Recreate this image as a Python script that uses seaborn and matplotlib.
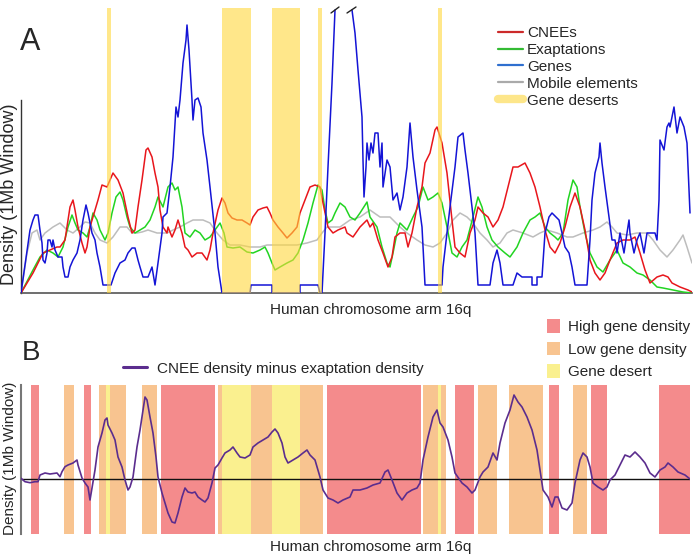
import numpy as np
import pandas as pd
import matplotlib
matplotlib.use("Agg")
import matplotlib.pyplot as plt
import seaborn as sns
from matplotlib.lines import Line2D
from matplotlib.patches import Patch

# ---------------- data (position along 16q, arbitrary units ; density) ----------------
cnees = [(21,0),(33,20),(43,40),(50,43),(57,46),(60,46),(65,53),(70,86),(73,93),(75,83),(78,66),(82,50),
         (85,40),(87,46),(90,66),(93,76),(98,93),(102,108),(107,106),(110,113),(113,120),(118,113),(123,100),
         (128,76),(132,60),(135,63),(138,86),(142,113),(146,143),(148,145),(152,136),(155,120),(158,106),
         (160,83),(163,66),(167,60),(168,66),(172,56),(175,63),(178,73),(182,60),(185,46),(188,43),(192,36),
         (197,40),(202,40),(207,33),(210,43),(213,60),(218,83),(222,95),(225,90),(228,80),(232,75),(237,73),
         (242,73),(247,70),(250,68),(253,76),(258,83),(263,85),(267,86),(270,80),(273,73),(278,66),(283,60),
         (287,55),(292,60),(297,66),(300,80),(305,93),(310,106),(315,108),(320,106),(323,90),(328,66),(333,60),
         (338,63),(345,66),(347,60),(353,56),(360,66),(367,73),(370,66),(373,70),(378,53),(383,40),(388,26),
         (392,36),(395,56),(400,60),(405,60),(408,46),(412,60),(417,86),(422,106),(425,130),(430,140),(435,163),
         (437,166),(442,150),(447,120),(452,73),(455,46),(460,40),(465,36),(470,60),(475,73),(478,86),(483,80),
         (488,76),(493,66),(498,73),(503,86),(508,106),(513,126),(518,126),(525,130),(530,120),(535,106),
         (540,86),(545,63),(550,46),(555,40),(560,50),(565,66),(570,86),(575,100),(580,86),(585,63),(590,33),
         (595,20),(600,13),(605,20),(610,33),(617,50),(623,53),(630,53),(635,56),(640,40),(645,23),(650,10),
         (657,16),(663,18),(668,16),(672,10),(680,6),(688,3),(692,1)]

exaptations = [(21,0),(33,23),(40,36),(47,43),(53,40),(58,36),(63,46),(68,66),(72,78),(75,70),(78,63),(83,60),
               (87,56),(90,66),(93,80),(97,73),(100,63),(105,53),(108,60),(112,80),(116,96),(120,101),(123,93),
               (127,76),(130,66),(135,60),(140,63),(145,66),(150,73),(155,86),(158,96),(163,86),(168,106),
               (172,110),(175,103),(178,106),(182,86),(185,60),(190,56),(195,63),(200,60),(205,53),(210,56),
               (215,63),(220,70),(224,60),(227,46),(233,45),(240,46),(247,41),(253,40),(260,43),(265,46),(268,40),
               (272,30),(275,23),(280,26),(287,30),(293,33),(298,40),(303,53),(308,70),(313,90),(318,108),(322,103),
               (325,83),(328,70),(332,73),(335,80),(340,90),(345,86),(350,76),(355,73),(360,80),(367,91),(370,76),
               (377,66),(382,46),(387,30),(390,26),(393,40),(397,60),(400,70),(407,63),(413,76),(418,86),(423,106),
               (428,93),(433,96),(438,100),(442,90),(447,66),(452,40),(457,36),(462,46),(467,53),(473,76),(478,96),
               (482,86),(487,66),(492,53),(498,46),(505,40),(510,36),(517,46),(523,60),(530,73),(535,76),(540,80),
               (545,66),(550,60),(555,56),(558,53),(563,60),(568,93),(573,113),(577,106),(580,86),(585,60),(590,40),
               (597,26),(603,21),(610,33),(617,43),(623,30),(630,26),(637,20),(643,18),(650,13),(657,6),(663,5),
               (673,3),(683,1),(692,0)]

genes_left = [(21,0),(30,63),(33,73),(35,78),(38,78),(40,63),(42,50),(43,33),(45,30),(47,40),(48,53),(50,53),
              (52,46),(53,53),(55,43),(58,36),(62,36),(63,26),(65,16),(68,16),(70,26),(73,33),(77,40),(80,53),
              (83,73),(86,88),(88,80),(92,60),(95,53),(97,40),(100,26),(103,8),(111,8),(115,20),(120,30),(125,33),
              (128,40),(132,45),(135,45),(138,33),(140,26),(143,16),(148,16),(152,26),(155,8),(158,30),(162,60),
              (163,76),(167,80),(170,106),(173,136),(176,186),(178,176),(180,193),(183,230),(186,253),(187,268),
              (189,243),(192,193),(193,173),(195,193),(198,195),(201,186),(203,160),(207,133),(210,106),(215,60),
              (218,26),(222,0),(250,0),(251,8),(272,8),(272,0),(300,0),(300,8),(318,8),(320,0),(322,0),(325,60),
              (328,126),(332,210),(335,283)]

genes_right = [(352,283),(355,260),(358,223),(362,176),(363,133),(364,96),(366,126),(367,150),(369,133),
               (371,150),(373,140),(375,160),(378,160),(380,126),(382,150),(383,106),(387,133),(390,126),(393,93),
               (397,100),(400,83),(403,96),(407,126),(410,170),(413,136),(417,103),(422,66),(425,8),(442,8),
               (443,26),(447,60),(450,86),(455,126),(458,156),(463,160),(465,143),(468,120),(472,86),(475,60),
               (478,8),(490,8),(493,30),(497,43),(500,30),(503,8),(513,8),(517,20),(522,16),(532,16),(532,8),
               (537,8),(537,16),(542,16),(545,60),(549,76),(552,80),(559,73),(562,60),(565,46),(569,40),(572,26),
               (575,8),(587,8),(590,53),(592,93),(595,120),(599,136),(600,150),(602,130),(605,106),(609,76),
               (612,53),(615,53),(617,40),(620,60),(624,40),(627,60),(629,73),(630,60),(634,40),(637,53),(640,60),
               (644,40),(647,60),(650,60),(655,60),(657,53),(659,93),(660,153),(664,143),(667,166),(669,170),
               (670,166),(674,186),(677,160),(680,176),(684,166),(687,150),(690,80)]

mobile = [(21,0),(27,40),(32,60),(37,63),(40,53),(45,60),(53,66),(60,70),(67,63),(73,60),(80,66),(85,71),(90,70),
          (95,60),(100,53),(107,50),(113,56),(120,66),(127,66),(132,60),(137,60),(142,61),(148,63),(157,60),
          (167,60),(173,63),(180,66),(187,70),(193,73),(203,73),(210,70),(217,60),(223,53),(230,48),(240,48),
          (250,46),(260,46),(267,48),(277,48),(287,48),(297,48),(307,50),(317,53),(322,60),(327,66),(333,66),
          (340,66),(350,73),(360,76),(370,83),(380,76),(390,76),(400,66),(407,60),(417,53),(425,48),(433,46),
          (440,50),(447,60),(453,73),(460,80),(467,76),(473,70),(480,60),(487,53),(493,46),(500,50),(507,60),
          (513,63),(523,60),(533,56),(540,60),(547,63),(557,60),(567,56),(573,56),(583,60),(593,63),(600,66),
          (607,71),(612,66),(617,60),(627,58),(637,60),(647,60),(653,53),(660,43),(667,36),(673,43),(680,53),
          (683,58),(687,46),(692,30)]

gene_deserts = [(107,111),(222,251),(272,300),(318,322),(438,442)]

difference = [(21,0.7),(25,-2.7),(30,-3.7),(35,-2.7),(38,-2.7),(40,4),(45,6),(50,5),(57,6),(60,2.3),(62,7.3),
              (65,12.3),(68,14),(73,16),(77,19),(78,14),(82,1),(85,-4),(88,-8),(90,-21),(92,-9),(95,9),(98,32),
              (102,46),(105,59),(107,61),(108,54),(112,46),(115,39),(118,22),(122,12),(125,-1),(128,-11),(130,-8),
              (133,2),(137,32),(140,49),(143,69),(145,82),(147,79),(150,62),(153,46),(156,22),(158,2),(162,-14),
              (165,-24),(168,-34),(172,-43),(175,-44),(178,-34),(182,-18),(185,-9),(188,-13),(192,-14),(195,-13),
              (198,-18),(202,-21),(205,-23),(208,-19),(212,-4),(215,11),(218,14),(222,21),(225,26),(230,29),
              (233,32),(237,26),(240,22),(245,21),(250,24),(253,32),(258,36),(263,39),(268,42),(272,47),(275,50),
              (278,46),(282,36),(285,22),(288,16),(293,19),(298,22),(303,26),(307,29),(310,24),(315,19),(320,2),
              (323,-11),(328,-19),(333,-21),(338,-24),(343,-21),(350,-18),(353,-11),(360,-11),(367,-9),(373,-6),
              (380,-4),(385,7),(388,9),(392,-1),(397,-14),(402,-21),(407,-14),(412,-11),(417,-9),(420,-4),(423,19),
              (428,42),(433,62),(437,69),(440,56),(443,52),(448,39),(452,22),(455,6),(462,-4),(467,-8),(472,-14),
              (475,-11),(480,2),(483,7),(488,12),(493,26),(497,19),(500,36),(505,56),(510,69),(514,84),(518,77),
              (522,72),(527,62),(532,49),(537,29),(540,9),(543,-11),(548,-18),(552,-28),(555,-18),(558,-18),
              (562,-29),(567,-31),(572,-24),(575,-4),(580,19),(583,26),(587,22),(590,12),(593,-4),(598,-8),
              (603,-11),(607,-8),(610,-1),(615,4),(620,14),(625,24),(630,22),(635,27),(640,22),(645,16),(650,6),
              (655,2),(660,9),(665,12),(668,16),(673,12),(678,7),(685,4),(690,0)]

density_regions = [(31,39,"High"),(64,74,"Low"),(84,91,"High"),(99,106,"Low"),(106,110,"Desert"),
                   (110,126,"Low"),(142,157,"Low"),(161,215,"High"),(218,222,"Low"),(222,251,"Desert"),
                   (251,272,"Low"),(272,300,"Desert"),(300,323,"Low"),(327,421,"High"),(423,438,"Low"),
                   (438,441,"Desert"),(441,446,"Low"),(455,474,"High"),(478,497,"Low"),(509,543,"Low"),
                   (549,559,"High"),(573,587,"Low"),(591,607,"High"),(659,690,"High")]

break_marks = [((331, 339), (280, 286)), ((347, 356), (280, 286))]

# ---------------- style ----------------
sns.set_style("white")
plt.rcParams["font.family"] = ["Liberation Sans", "DejaVu Sans"]

C_RED, C_GREEN, C_BLUE, C_GREY = "#e8161c", "#22d422", "#1414d6", "#bdbdbd"
C_PURPLE = "#5b2d8e"
C_DESERT_A = "#FFD83C"
REGION_COL = {"High": "#F48B8C", "Low": "#F8C490", "Desert": "#FAF08F"}

W, H = 697, 558
fig = plt.figure(figsize=(W / 100, H / 100), dpi=100)
axA = fig.add_axes([21 / W, 265 / H, 671 / W, 288 / H])
axB = fig.add_axes([21 / W, 24 / H, 669 / W, 149 / H])


def line(ax, pairs, color, lw=1.0, z=2):
    df = pd.DataFrame(pairs, columns=["pos", "val"])
    sns.lineplot(data=df, x="pos", y="val", ax=ax, color=color, lw=lw,
                 estimator=None, sort=False, zorder=z)


# ---------------- panel A ----------------
line(axA, mobile, C_GREY, 1.1, 2)
line(axA, exaptations, C_GREEN, 1.1, 3)
line(axA, cnees, C_RED, 1.1, 3)
line(axA, genes_left, C_BLUE, 1.1, 4)
line(axA, genes_right, C_BLUE, 1.1, 4)
for s, e in gene_deserts:
    axA.axvspan(s, e, ymin=0, ymax=285 / 288, color=C_DESERT_A, alpha=0.6, lw=0, zorder=6)
for xs, ys in break_marks:
    axA.plot(xs, ys, color="#222222", lw=1.0, zorder=7, clip_on=False)

axA.set_xlim(21, 692)
axA.set_ylim(0, 288)
axA.set_xticks([]); axA.set_yticks([])
axA.set_xlabel(""); axA.set_ylabel("")
for sp in ("top", "right"):
    axA.spines[sp].set_visible(False)
axA.spines["left"].set_bounds(0, 193)
axA.spines["left"].set_color("#333333")
axA.spines["left"].set_linewidth(1.0)
axA.spines["bottom"].set_color("#555555")
axA.spines["bottom"].set_linewidth(1.2)

hA = [Line2D([], [], color="#cc2a2a", lw=1.6),
      Line2D([], [], color="#33bb33", lw=1.6),
      Line2D([], [], color="#2f6fcf", lw=1.6),
      Line2D([], [], color="#aaaaaa", lw=1.6),
      Line2D([], [], color="#FDE68A", lw=6)]
lA = ["CNEEs", "Exaptations", "Genes", "Mobile elements", "Gene deserts"]
axA.legend(hA, lA, loc="upper left", bbox_to_anchor=(498 / W, 1 - 26 / H),
           bbox_transform=fig.transFigure, frameon=False, borderpad=0, borderaxespad=0,
           handlelength=1.65, handletextpad=0.25, labelspacing=0.19, fontsize=11)

# ---------------- panel B ----------------
for s, e, cat in density_regions:
    axB.axvspan(s, e, color=REGION_COL[cat], lw=0, zorder=1)
axB.axhline(0, color="#111111", lw=1.0, zorder=2)
line(axB, difference, C_PURPLE, 1.2, 3)

axB.set_xlim(21, 690)
axB.set_ylim(-55, 94)
axB.set_xticks([]); axB.set_yticks([])
axB.set_xlabel(""); axB.set_ylabel("")
for sp in ("top", "right", "bottom"):
    axB.spines[sp].set_visible(False)
axB.spines["left"].set_color("#777777")
axB.spines["left"].set_linewidth(1.5)

legB1 = axB.legend([Line2D([], [], color=C_PURPLE, lw=2.2)],
                   ["CNEE density minus exaptation density"],
                   loc="upper left", bbox_to_anchor=(123 / W, 1 - 361.5 / H),
                   bbox_transform=fig.transFigure, frameon=False, borderpad=0, borderaxespad=0,
                   handlelength=1.57, handletextpad=0.65, fontsize=11)
axB.add_artist(legB1)
hB = [Patch(facecolor=REGION_COL["High"], lw=0),
      Patch(facecolor=REGION_COL["Low"], lw=0),
      Patch(facecolor=REGION_COL["Desert"], lw=0)]
axB.legend(hB, ["High gene density", "Low gene density", "Gene desert"],
           loc="upper left", bbox_to_anchor=(547 / W, 1 - 319 / H),
           bbox_transform=fig.transFigure, frameon=False, borderpad=0, borderaxespad=0,
           handlelength=0.85, handleheight=1.0, handletextpad=0.55, labelspacing=0.5, fontsize=11)

# ---------------- texts ----------------
fig.text(20 / W, 1 - 50 / H, "A", fontsize=22, va="baseline", ha="left")
fig.text(22 / W, 1 - 360 / H, "B", fontsize=20, va="baseline", ha="left")
fig.text(10 / W, 1 - 194 / H, "Density (1Mb Window)", rotation=90, fontsize=13,
         ha="center", va="center")
fig.text(10 / W, 1 - 458 / H, "Density (1Mb Window)", rotation=90, fontsize=11,
         ha="center", va="center")
fig.text(371 / W, 1 - 310 / H, "Human chromosome arm 16q", fontsize=11, ha="center", va="center")
fig.text(371 / W, 1 - 547 / H, "Human chromosome arm 16q", fontsize=11, ha="center", va="center")

fig.savefig("out.png", dpi=100)
